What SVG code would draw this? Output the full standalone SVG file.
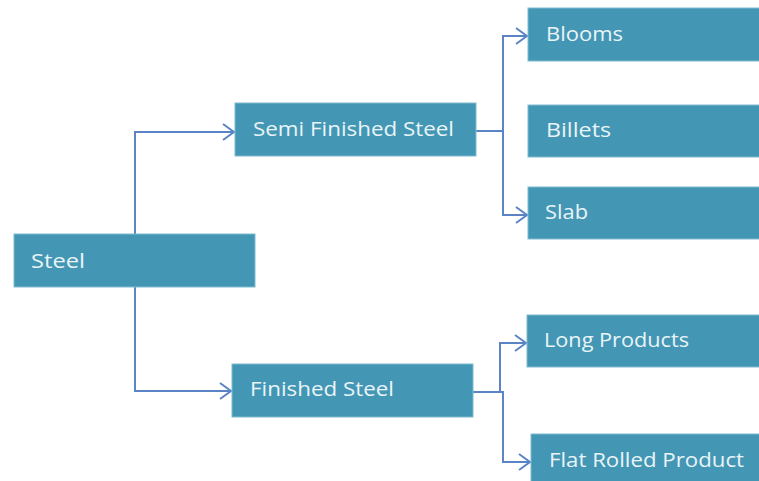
<svg xmlns="http://www.w3.org/2000/svg" width="759" height="481" viewBox="0 0 759 481">
<defs>
<style>
.box{fill:#4397B4;stroke:#7FBBD0;stroke-width:1}
.lbl{font-family:"Open Sans","Liberation Sans",Arial,sans-serif;font-size:20px;fill:#EAF4F8}
.con{fill:none;stroke:#5B84C6;stroke-width:2}
</style>
<marker id="arr" markerWidth="16" markerHeight="20" refX="13" refY="10" orient="auto" markerUnits="userSpaceOnUse">
<path d="M2,2 L13,10 L2,18" fill="none" stroke="#5B84C6" stroke-width="2"/>
</marker>
</defs>
<rect width="759" height="481" fill="#FFFFFF"/>
<g id="connectors">
<path class="con" d="M135,234 V132 H234" marker-end="url(#arr)"/>
<path class="con" d="M135,287 V391 H231" marker-end="url(#arr)"/>
<path class="con" d="M476,131 H503"/>
<path class="con" d="M503,131 V36 H527" marker-end="url(#arr)"/>
<path class="con" d="M503,131 V215 H527" marker-end="url(#arr)"/>
<path class="con" d="M473,392 H500 V343 H526" marker-end="url(#arr)"/>
<path class="con" d="M500,392 H503 V462 H530" marker-end="url(#arr)"/>
</g>
<g id="steel"><rect class="box" x="14" y="234" width="241" height="53"/><text class="lbl" x="31" y="268" textLength="54" lengthAdjust="spacingAndGlyphs">Steel</text></g>
<g id="semi"><rect class="box" x="235" y="103" width="241" height="53"/><text class="lbl" x="253" y="136" textLength="201" lengthAdjust="spacingAndGlyphs">Semi Finished Steel</text></g>
<g id="finished"><rect class="box" x="232" y="364" width="241" height="53"/><text class="lbl" x="250" y="396" textLength="144" lengthAdjust="spacingAndGlyphs">Finished Steel</text></g>
<g id="blooms"><rect class="box" x="528" y="8" width="232" height="53"/><text class="lbl" x="546" y="41" textLength="77" lengthAdjust="spacingAndGlyphs">Blooms</text></g>
<g id="billets"><rect class="box" x="528" y="105" width="232" height="52"/><text class="lbl" x="546" y="137" textLength="65" lengthAdjust="spacingAndGlyphs">Billets</text></g>
<g id="slab"><rect class="box" x="528" y="187" width="232" height="52"/><text class="lbl" x="545" y="219" textLength="43" lengthAdjust="spacingAndGlyphs">Slab</text></g>
<g id="long"><rect class="box" x="527" y="315" width="233" height="52"/><text class="lbl" x="544" y="347" textLength="145" lengthAdjust="spacingAndGlyphs">Long Products</text></g>
<g id="flat"><rect class="box" x="531" y="434" width="229" height="52"/><text class="lbl" x="549" y="467" textLength="195" lengthAdjust="spacingAndGlyphs">Flat Rolled Product</text></g>
</svg>
